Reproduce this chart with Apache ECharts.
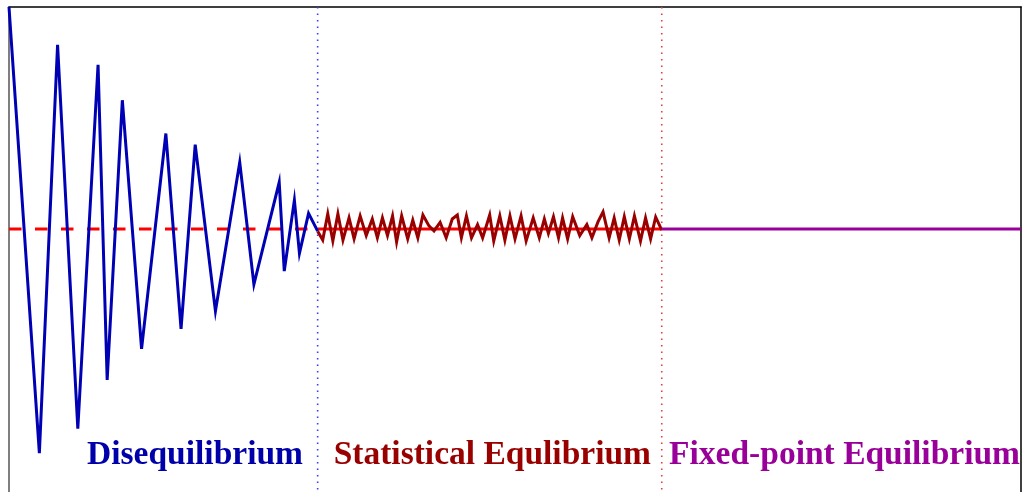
<!DOCTYPE html>
<html>
<head>
<meta charset="utf-8">
<style>html,body{margin:0;padding:0;background:#fff;}#c{width:1023px;height:492px;}</style>
<script src="https://cdn.jsdelivr.net/npm/echarts@6/dist/echarts.min.js"></script>
</head>
<body>
<div id="c"></div>
<script>
// Phase 1: disequilibrium (damped oscillation)
const blueT = [0, 3.0, 4.8, 6.8, 8.8, 9.7, 11.2, 13.1, 15.5, 17.0, 18.4, 20.4, 22.8, 24.2, 26.7, 27.2, 28.2, 28.7, 29.6, 30.5];
const blueY = [1.0, -1.01, 0.83, -0.9, 0.74, -0.68, 0.58, -0.54, 0.43, -0.45, 0.38, -0.37, 0.3, -0.25, 0.21, -0.19, 0.13, -0.11, 0.07, -0.01];
// Phase 2: statistical equilibrium (small fluctuations)
const redT = [30.5, 31.0, 31.5, 32.0, 32.5, 33.0, 33.6, 34.1, 34.7, 35.3, 35.9, 36.4, 36.9, 37.4, 37.9, 38.3, 38.8, 39.4, 39.9, 40.4, 40.9, 41.5, 42.0, 42.6, 43.2, 43.8, 44.3, 44.7, 45.2, 45.7, 46.3, 46.8, 47.5, 47.9, 48.5, 49.0, 49.5, 50.0, 50.6, 51.1, 51.8, 52.4, 52.9, 53.3, 53.8, 54.3, 54.7, 55.2, 55.7, 56.4, 57.1, 57.6, 58.2, 58.7, 59.3, 59.8, 60.3, 60.8, 61.3, 61.8, 62.4, 62.9, 63.4, 63.9, 64.5];
const redY = [-0.01, -0.05, 0.068, -0.054, 0.068, -0.05, 0.05, -0.045, 0.059, -0.03, 0.045, -0.04, 0.05, -0.03, 0.059, -0.059, 0.059, -0.045, 0.04, -0.04, 0.063, 0.014, -0.009, 0.03, -0.04, 0.045, 0.063, -0.04, 0.059, -0.04, 0.02, -0.04, 0.063, -0.054, 0.059, -0.05, 0.059, -0.045, 0.059, -0.054, 0.05, -0.04, 0.045, -0.02, 0.055, -0.04, 0.05, -0.045, 0.055, -0.03, 0.02, -0.04, 0.032, 0.077, -0.04, 0.05, -0.05, 0.055, -0.045, 0.059, -0.054, 0.05, -0.045, 0.054, -0.005];
// Phase 3: fixed-point equilibrium
const fixedT = [64.5, 100];
const fixedY = [0, 0];
// Equilibrium reference level
const refDashedT = [0, 30.5];
const refSolidT = [30.5, 64.5];
const refY = [0, 0];
// Phase boundaries
const phaseBounds = [30.5, 64.5];
const phaseLabels = ['Disequilibrium', 'Statistical Equlibrium', 'Fixed-point Equilibrium'];
const yMin = -1.185, yMax = 1.0;

const zip = (a, b) => a.map((v, i) => [v, b[i]]);

const chart = echarts.init(document.getElementById('c'), null, {renderer: 'canvas'});
const labelFont = 'bold 33.5px "Liberation Serif", "Times New Roman", serif';
const hidden = {axisTick: {show: false}, axisLabel: {show: false}, splitLine: {show: false}};
chart.setOption({
  animation: false,
  backgroundColor: '#ffffff',
  grid: {left: 9, right: 2, top: 7, bottom: 0, show: false},
  xAxis: Object.assign({type: 'value', min: 0, max: 100, position: 'top',
    axisLine: {show: true, onZero: false, lineStyle: {color: '#000', width: 1.5}}}, hidden),
  yAxis: [
    Object.assign({type: 'value', min: yMin, max: yMax, position: 'left',
      axisLine: {show: true, onZero: false, lineStyle: {color: '#555', width: 1.5}}}, hidden),
    Object.assign({type: 'value', min: yMin, max: yMax, position: 'right',
      axisLine: {show: true, onZero: false, lineStyle: {color: '#000', width: 1.5}}}, hidden)
  ],
  series: [
    {type: 'line', data: zip(refDashedT, refY), symbol: 'none', z: 1,
     lineStyle: {color: '#ff0000', width: 3, type: [12.5, 13.5]}},
    {type: 'line', data: zip(refSolidT, refY), symbol: 'none', z: 1,
     lineStyle: {color: '#ff0000', width: 3}},
    {type: 'line', data: [[phaseBounds[0], yMax], [phaseBounds[0], yMin]], symbol: 'none', z: 2,
     lineStyle: {color: '#3c3cff', width: 1.6, type: [1.5, 5]}},
    {type: 'line', data: [[phaseBounds[1], yMax], [phaseBounds[1], yMin]], symbol: 'none', z: 2,
     lineStyle: {color: '#dd4040', width: 1.6, type: [1.5, 5]}},
    {type: 'line', data: zip(blueT, blueY), symbol: 'none', z: 3,
     lineStyle: {color: '#0000b4', width: 3, join: 'miter'}},
    {type: 'line', data: zip(redT, redY), symbol: 'none', z: 3,
     lineStyle: {color: '#990000', width: 3, join: 'miter'}},
    {type: 'line', data: zip(fixedT, fixedY), symbol: 'none', z: 3,
     lineStyle: {color: '#990099', width: 3}}
  ],
  graphic: [
    {type: 'text', x: 303, y: 455, z: 10, style: {text: phaseLabels[0], font: labelFont, fill: '#0000aa', align: 'right', verticalAlign: 'middle'}},
    {type: 'text', x: 651, y: 455, z: 10, style: {text: phaseLabels[1], font: labelFont, fill: '#990000', align: 'right', verticalAlign: 'middle'}},
    {type: 'text', x: 1020, y: 455, z: 10, style: {text: phaseLabels[2], font: labelFont, fill: '#990099', align: 'right', verticalAlign: 'middle'}}
  ]
});
</script>
</body>
</html>
